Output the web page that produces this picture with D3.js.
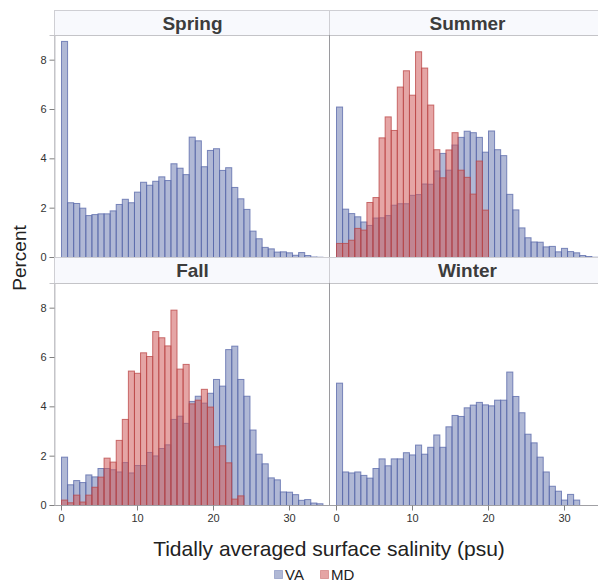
<!DOCTYPE html>
<html>
<head>
<meta charset="utf-8">
<script src="https://cdn.jsdelivr.net/npm/d3@7"></script>
<style>
  html, body { margin: 0; padding: 0; background: #fff; }
  svg { display: block; font-family: "Liberation Sans", Arial, sans-serif; }
</style>
</head>
<body>
<svg id="chart" width="598" height="587"></svg>
<script>
// ---- Data (percent per 0.8 psu bin, bins start at 0) ----
const seasons = ["Spring", "Summer", "Fall", "Winter"];
const seriesNames = ["VA", "MD"];
const binWidth = 0.8;
const springVA = [8.76,2.22,2.19,2.0,1.70,1.74,1.77,1.77,1.89,2.15,2.36,2.22,2.65,3.05,2.93,3.09,3.27,3.12,3.80,3.62,3.36,4.88,4.73,3.68,4.34,4.41,3.53,3.64,2.84,2.38,1.95,1.07,0.76,0.41,0.35,0.22,0.23,0.19,0.09,0.20,0.08,0.02,0.01];
const springMD = [];
const summerVA = [6.10,1.96,1.78,1.65,1.44,1.30,1.60,1.61,1.70,2.12,2.18,2.18,2.52,2.55,2.98,2.97,3.51,4.22,3.54,4.56,4.87,5.12,5.06,4.87,4.27,5.13,4.37,4.13,2.56,1.93,1.20,0.80,0.63,0.62,0.43,0.45,0.23,0.37,0.24,0.19,0.08,0.04,0.01];
const summerMD = [0.57,0.57,0.70,1.18,1.11,2.23,2.43,4.85,5.70,5.15,6.91,7.57,6.58,8.34,7.68,6.18,4.37,3.23,4.36,5.06,3.54,3.25,2.57,3.91,1.92];
const fallVA = [1.96,0.84,1.01,0.93,1.24,1.16,1.50,1.50,1.45,1.36,1.74,1.32,1.62,1.62,2.15,2.01,2.31,2.46,3.49,3.62,3.33,4.22,4.43,4.15,4.55,5.11,4.84,6.32,6.46,5.11,4.43,3.06,2.08,1.69,1.12,1.04,0.55,0.54,0.44,0.21,0.24,0.10,0.07];
const fallMD = [0.22,0.11,0.42,0.14,0.42,0.74,1.15,1.92,1.76,2.64,3.49,5.45,5.36,6.19,6.04,7.05,6.80,6.47,7.92,5.53,5.72,4.12,4.27,4.71,3.99,2.38,2.42,1.73,0.26,0.39];
const winterVA = [4.96,1.36,1.32,1.36,1.22,1.11,1.50,1.89,1.61,1.89,1.89,2.14,2.05,2.45,2.08,2.36,2.86,2.36,3.19,3.65,3.61,3.96,4.07,4.18,4.08,4.04,4.27,4.27,5.41,4.42,3.76,2.89,2.54,1.96,1.36,0.78,0.58,0.22,0.45,0.22];
const winterMD = [];
const yTicks = [0, 2, 4, 6, 8];
const xTicks = [0, 10, 20, 30];

const panelData = [
  { name: seasons[0], VA: springVA, MD: springMD, col: 0, row: 0 },
  { name: seasons[1], VA: summerVA, MD: summerMD, col: 1, row: 0 },
  { name: seasons[2], VA: fallVA,   MD: fallMD,   col: 0, row: 1 },
  { name: seasons[3], VA: winterVA, MD: winterMD, col: 1, row: 1 }
];

// ---- Styles ----
const colors = {
  VA: { fill: "#6f7eb3", stroke: "#5566a8" },
  MD: { fill: "#d05b5b", stroke: "#b94444" }
};

// ---- Layout ----
const cols = [[54, 329], [329, 604]];
const rows = [
  { head: [10, 35], plot: [35, 257] },
  { head: [257, 283], plot: [283, 505] }
];

const svg = d3.select("#chart");

panelData.forEach(p => {
  const [cx0, cx1] = cols[p.col];
  const r = rows[p.row];
  const x = d3.scaleLinear().domain([0, 30]).range([cx0 + 7, cx0 + 235]);
  const y = d3.scaleLinear().domain([0, 9]).range([r.plot[1], r.plot[0]]);
  const g = svg.append("g");

  // header strip
  g.append("rect")
    .attr("x", cx0 + 0.5).attr("y", r.head[0] + 0.5)
    .attr("width", cx1 - cx0).attr("height", r.head[1] - r.head[0])
    .attr("fill", "#f8f9fd").attr("stroke", "#cfcfd4");
  g.append("text")
    .attr("x", (cx0 + Math.min(cx1, 604)) / 2 + 1)
    .attr("y", (r.head[0] + r.head[1]) / 2 + 7)
    .attr("text-anchor", "middle")
    .attr("font-size", 19).attr("font-weight", "bold")
    .attr("fill", "#3c3c3c")
    .text(p.name);

  // bars
  ["VA", "MD"].forEach(s => {
    const vals = p[s];
    g.append("g").selectAll("rect").data(vals).join("rect")
      .attr("x", (d, i) => x(i * binWidth) + 0.5)
      .attr("width", (d, i) => x((i + 1) * binWidth) - x(i * binWidth))
      .attr("y", d => y(d) + 0.5)
      .attr("height", d => y(0) - y(d))
      .attr("fill", colors[s].fill).attr("fill-opacity", 0.55)
      .attr("stroke", colors[s].stroke).attr("stroke-opacity", 0.75)
      .attr("stroke-width", 1);
  });

  // plot frame
  g.append("rect")
    .attr("x", cx0 + 0.5).attr("y", r.plot[0] + 0.5)
    .attr("width", cx1 - cx0).attr("height", r.plot[1] - r.plot[0])
    .attr("fill", "none").attr("stroke", "#c4c4c8");
  // bottom line
  g.append("line")
    .attr("x1", cx0).attr("x2", cx1)
    .attr("y1", r.plot[1] + 0.5).attr("y2", r.plot[1] + 0.5)
    .attr("stroke", "#a0a0a4");
  if (p.col === 1) {
    g.append("line")
      .attr("x1", cx0 + 0.5).attr("x2", cx0 + 0.5)
      .attr("y1", r.plot[0]).attr("y2", r.plot[1])
      .attr("stroke", "#9a9a9e");
  }

  // y axis
  if (p.col === 0) {
    const ya = g.append("g").attr("transform", `translate(${cx0 + 0.5},0)`)
      .call(d3.axisLeft(y).tickValues(yTicks).tickSize(5).tickPadding(3));
    ya.select(".domain").attr("stroke", "#c4c4c8");
    ya.selectAll(".tick line").attr("stroke", "#808080");
    ya.selectAll("text").attr("font-size", 11).attr("fill", "#333")
      .attr("font-family", "'Liberation Sans', Arial, sans-serif");
  }
  // x axis
  if (p.row === 1) {
    const xa = g.append("g").attr("transform", `translate(0,${r.plot[1] + 0.5})`)
      .call(d3.axisBottom(x).tickValues(xTicks).tickSize(5).tickPadding(4));
    xa.select(".domain").remove();
    xa.selectAll(".tick line").attr("stroke", "#808080");
    xa.selectAll("text").attr("font-size", 11).attr("fill", "#333")
      .attr("font-family", "'Liberation Sans', Arial, sans-serif");
  }
});

// axis titles
svg.append("text")
  .attr("x", 329).attr("y", 556)
  .attr("text-anchor", "middle").attr("font-size", 21).attr("fill", "#222")
  .text("Tidally averaged surface salinity (psu)");
svg.append("text")
  .attr("transform", "translate(26,258) rotate(-90)")
  .attr("text-anchor", "middle").attr("font-size", 19).attr("fill", "#222")
  .text("Percent");

// legend
const legend = svg.append("g").attr("transform", "translate(274,570)");
const legendX = [0, 46];
seriesNames.forEach((s, i) => {
  const lg = legend.append("g").attr("transform", `translate(${legendX[i]},0)`);
  lg.append("rect").attr("x", 0.5).attr("y", 0.5).attr("width", 8).attr("height", 8)
    .attr("fill", colors[s].fill).attr("fill-opacity", 0.55)
    .attr("stroke", colors[s].stroke).attr("stroke-opacity", 0.4);
  lg.append("text").attr("x", 11).attr("y", 10)
    .attr("font-size", 15).attr("fill", "#222").text(s);
});
</script>
</body>
</html>
